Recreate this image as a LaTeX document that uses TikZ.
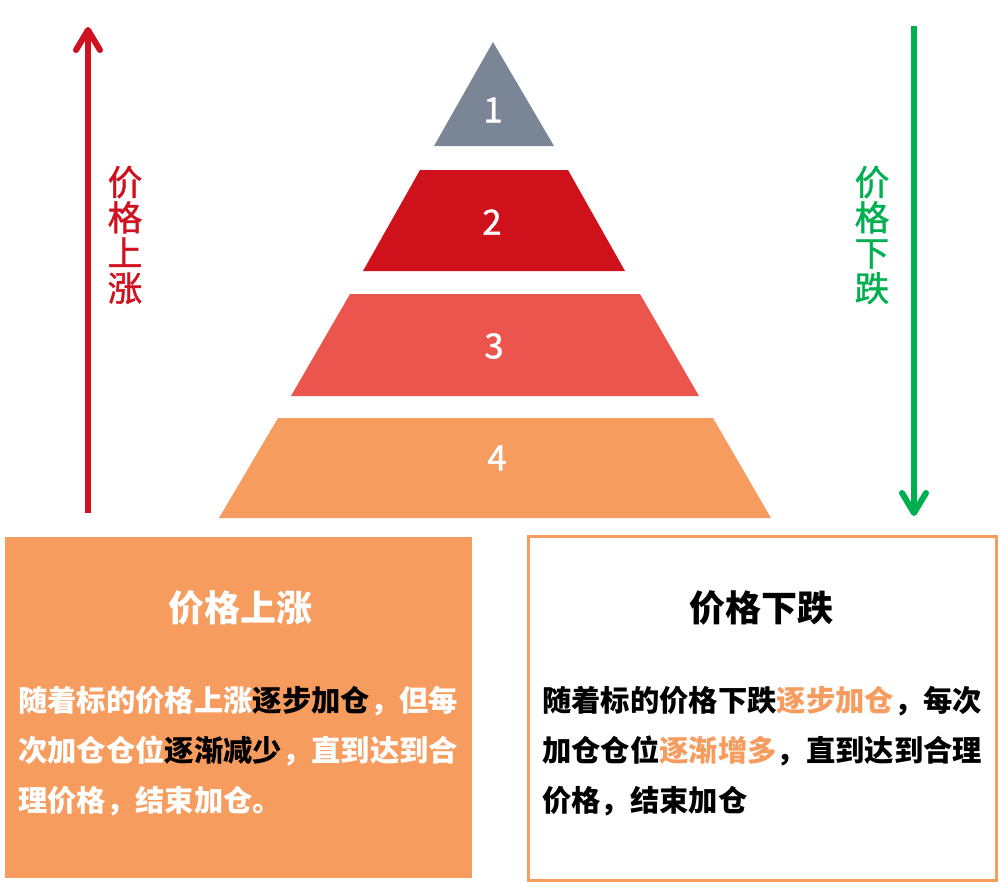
\documentclass[tikz,border=0pt]{standalone}
\usepackage{fontspec}
\setmainfont{Noto Sans CJK SC}
\newfontfamily\medfont{Noto Sans CJK SC}[FakeBold=1.2]
\usepackage{xcolor}
\usetikzlibrary{arrows.meta}

\definecolor{tiergray}{HTML}{7A8595}
\definecolor{tierred}{HTML}{CF111C}
\definecolor{tiersalmon}{HTML}{EC554E}
\definecolor{tierorange}{HTML}{F79C5F}
\definecolor{risered}{HTML}{D0111F}
\definecolor{fallgreen}{HTML}{00B050}

\tikzset{
    tiernum/.style={text=white, font=\medfont\fontsize{26}{26}\selectfont},
    pricelabel/.style={font=\medfont\fontsize{26}{26.5}\selectfont, align=center},
    trendarrow/.style={line width=4.5pt, -{Straight Barb[length=15pt,width=18pt,line cap=round,line join=round]}},
    boxtitle/.style={font=\bfseries\fontsize{27}{27}\selectfont},
    boxbody/.style={font=\bfseries\fontsize{22}{37.5}\selectfont, align=left, anchor=west, inner sep=0pt},
}

\begin{document}
\begin{tikzpicture}[x=0.75pt, y=-0.75pt]
            \useasboundingbox (0,0) rectangle (1000,883);

            % pyramid tiers
            \fill[tiergray] (493,42) -- (554,146) -- (434,146) -- cycle;
            \fill[tierred] (420,170) -- (568,170) -- (625,271) -- (363,271) -- cycle;
            \fill[tiersalmon] (350,294) -- (640,294) -- (699,396) -- (291,396) -- cycle;
            \fill[tierorange] (278,418) -- (713,418) -- (771,518) -- (219,518) -- cycle;

            \node[tiernum] (one) at (493,110) {1};
            \node[tiernum] (two) at (492,222) {2};
            \node[tiernum] (three) at (494,346) {3};
            \node[tiernum] (four) at (497,458) {4};

            % price arrows
            \coordinate (risebot) at (88,513);
            \coordinate (risetop) at (88,27);
            \coordinate (falltop) at (914,26);
            \coordinate (fallbot) at (914,516);
            \draw[trendarrow, risered] (risebot) -- (risetop);
            \draw[trendarrow, fallgreen] (falltop) -- (fallbot);

            \node[pricelabel, text=risered] (riselabel) at (125,235) {价\\格\\上\\涨};
            \node[pricelabel, text=fallgreen] (falllabel) at (872,235) {价\\格\\下\\跌};

            % boxes
            \fill[tierorange] (5,537) rectangle (472,878);
            \draw[tierorange, line width=2.25pt] (528,536) rectangle (996,880);

            \node[boxtitle, text=white] (risetitle) at (240,608) {价格上涨};
            \node[boxtitle, text=black] (falltitle) at (761,608) {价格下跌};

            \node[boxbody, text=white] (risetext) at (18,751)
                {随着标的价格上涨\textcolor{black}{逐步加仓}，但每\\
                 次加仓仓位\textcolor{black}{逐渐减少}，直到达到合\\
                 理价格，结束加仓。};
            \node[boxbody, text=black] (falltext) at (542,751)
                {随着标的价格下跌\textcolor{tierorange}{逐步加仓}，每次\\
                 加仓仓位\textcolor{tierorange}{逐渐增多}，直到达到合理\\
                 价格，结束加仓};
        \end{tikzpicture}
\end{document}
